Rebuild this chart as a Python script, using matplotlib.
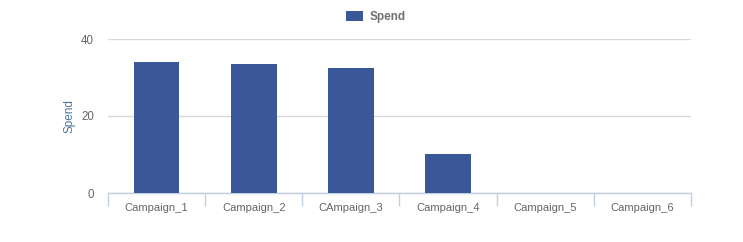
import matplotlib
matplotlib.use("Agg")
import matplotlib.pyplot as plt
from matplotlib.patches import Patch

categories = ["Campaign_1", "Campaign_2", "CAmpaign_3", "Campaign_4", "Campaign_5", "Campaign_6"]
spend = [34.0, 33.6, 32.5, 10.1, 0, 0]
yticks = [0, 20, 40]

plt.rcParams['font.family'] = ['Liberation Sans', 'DejaVu Sans']

fig = plt.figure(figsize=(7.43, 2.42), dpi=100)
ax = fig.add_axes([108/743, 1-193/242, (691-108)/743, (193-39)/242])

bar_color = "#3a5898"
x = list(range(len(categories)))
ax.bar(x, spend, width=0.47, color=bar_color, zorder=3)

ax.set_xlim(-0.5, len(categories)-0.5)
ax.set_ylim(0, 40)
ax.set_yticks(yticks)
ax.set_yticklabels([str(v) for v in yticks])
ax.yaxis.grid(True, color="#d8d8d8", linewidth=1, zorder=0)
ax.tick_params(axis='y', length=0, pad=10, labelsize=8.3, labelcolor="#666666")

ax.set_xticks(x)
ax.set_xticklabels(categories)
ax.tick_params(axis='x', which='major', length=0, pad=7, labelsize=8, labelcolor="#666666")
ax.set_xticks([i - 0.5 for i in range(len(categories)+1)], minor=True)
ax.tick_params(axis='x', which='minor', length=9, color="#c0d0e0", width=1, direction='out')

for s in ['top', 'right', 'left']:
    ax.spines[s].set_visible(False)
ax.spines['bottom'].set_color("#c0d0e0")
ax.spines['bottom'].set_linewidth(1)

ax.set_ylabel("Spend", color="#4d759e", fontsize=8.5, labelpad=4)

leg = fig.legend(handles=[Patch(facecolor=bar_color, label="Spend")], loc='upper center',
                 bbox_to_anchor=(0.506, 1.0), frameon=False, handlelength=1.4, handleheight=1.0,
                 handletextpad=0.6, prop={'weight': 'bold', 'size': 8.5})
for t in leg.get_texts():
    t.set_color("#707070")

fig.savefig("out.png", dpi=100)
